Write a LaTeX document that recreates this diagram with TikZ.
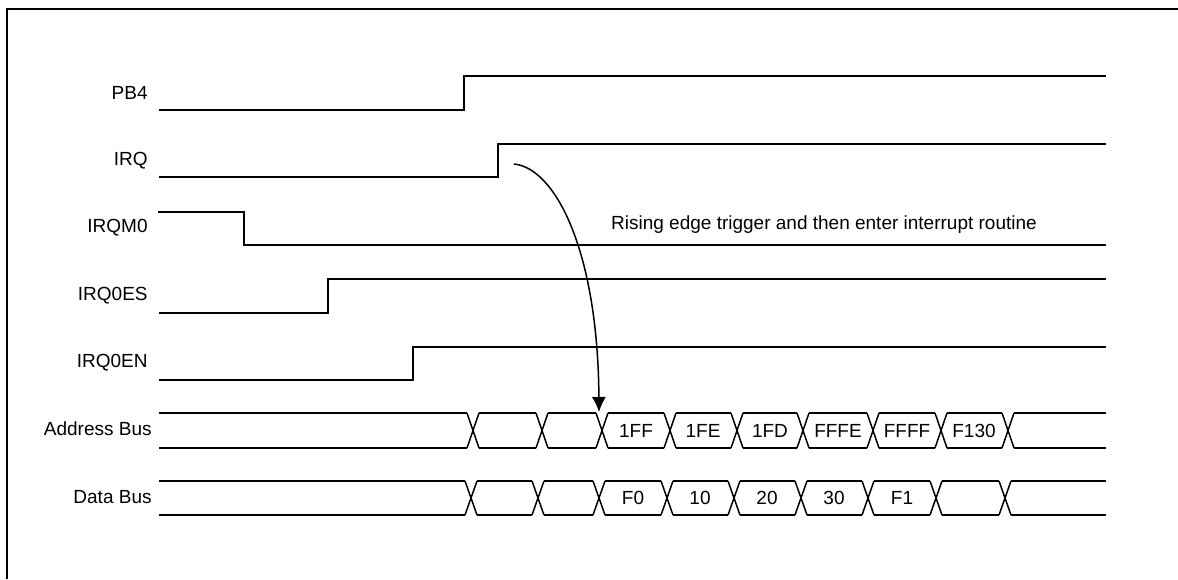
\documentclass[tikz,border=0pt]{standalone}
\usepackage{fontspec}
\setmainfont{Liberation Sans}
\usetikzlibrary{arrows.meta,positioning,calc}

\begin{document}
\begin{tikzpicture}[x=0.5pt,y=-0.5pt,
    sig/.style={line width=0.75pt},
    lbl/.style={anchor=east, inner sep=0pt, font=\fontsize{9.5}{11}\selectfont},
    val/.style={inner sep=0pt, font=\fontsize{9.5}{11}\selectfont}]
        \useasboundingbox (0,0) rectangle (1178,579);
        \draw[line width=1pt] (1178,9) -| (7,579);

        % signal names
        \draw node[lbl] (pb4) at (148,93) {PB4};
        \draw node[lbl] (irq) at (148,161) {IRQ};
        \draw node[lbl] (irqm0) at (148,228) {IRQM0};
        \draw node[lbl] (irq0es) at (148,296) {IRQ0ES};
        \draw node[lbl] (irq0en) at (148,363) {IRQ0EN};
        \draw node[lbl] (abus) at (152,429) {Address Bus};
        \draw node[lbl] (dbus) at (152,497) {Data Bus};

        % waveforms
        \draw[sig] (159,110) -- (464,110) -- (464,76) -- (1106,76);
        \draw[sig] (159,177) -- (498,177) -- (498,144) -- (1106,144);
        \draw[sig] (158,212) -- (244,212) -- (244,245) -- (1106,245);
        \draw[sig] (159,313) -- (328,313) -- (328,279) -- (1106,279);
        \draw[sig] (159,380) -- (413,380) -- (413,347) -- (1106,347);

        % address bus
        \foreach \a/\b in {153/473,473/542,542/602,602/670,670/737,737/803,803/873,873/941,941/1008,1008/1112}
          \draw[sig] (\a+6,413) -- (\b-6,413) (\a+6,448) -- (\b-6,448);
        \foreach \c in {473,542,602,670,737,803,873,941,1008}
          \draw[sig] (\c-6,413) -- (\c+6,448) (\c-6,448) -- (\c+6,413);
        \foreach \x/\t in {636/1FF,703/1FE,770/1FD,838/FFFE,907/FFFF,974/F130}
          \draw node[val] at (\x,431) {\t};

        % data bus
        \foreach \a/\b in {153/471,471/538,538/599,599/667,667/734,734/801,801/868,868/936,936/1005,1005/1112}
          \draw[sig] (\a+6,481) -- (\b-6,481) (\a+6,515) -- (\b-6,515);
        \foreach \c in {471,538,599,667,734,801,868,936,1005}
          \draw[sig] (\c-6,481) -- (\c+6,515) (\c-6,515) -- (\c+6,481);
        \foreach \x/\t in {633/F0,700/10,767/20,834/30,902/F1}
          \draw node[val] at (\x,498) {\t};

        % interrupt arrow
        \coordinate (irqedge) at (514,164);
        \coordinate (busin) at (599,412);
        \draw[line width=0.75pt,-{Latex[length=7.5pt,width=7pt]}] (irqedge) .. controls (555,168) and (598,250) .. (busin);
        \draw node[val] (note) at (824,225) {Rising edge trigger and then enter interrupt routine};
      \end{tikzpicture}
\end{document}
